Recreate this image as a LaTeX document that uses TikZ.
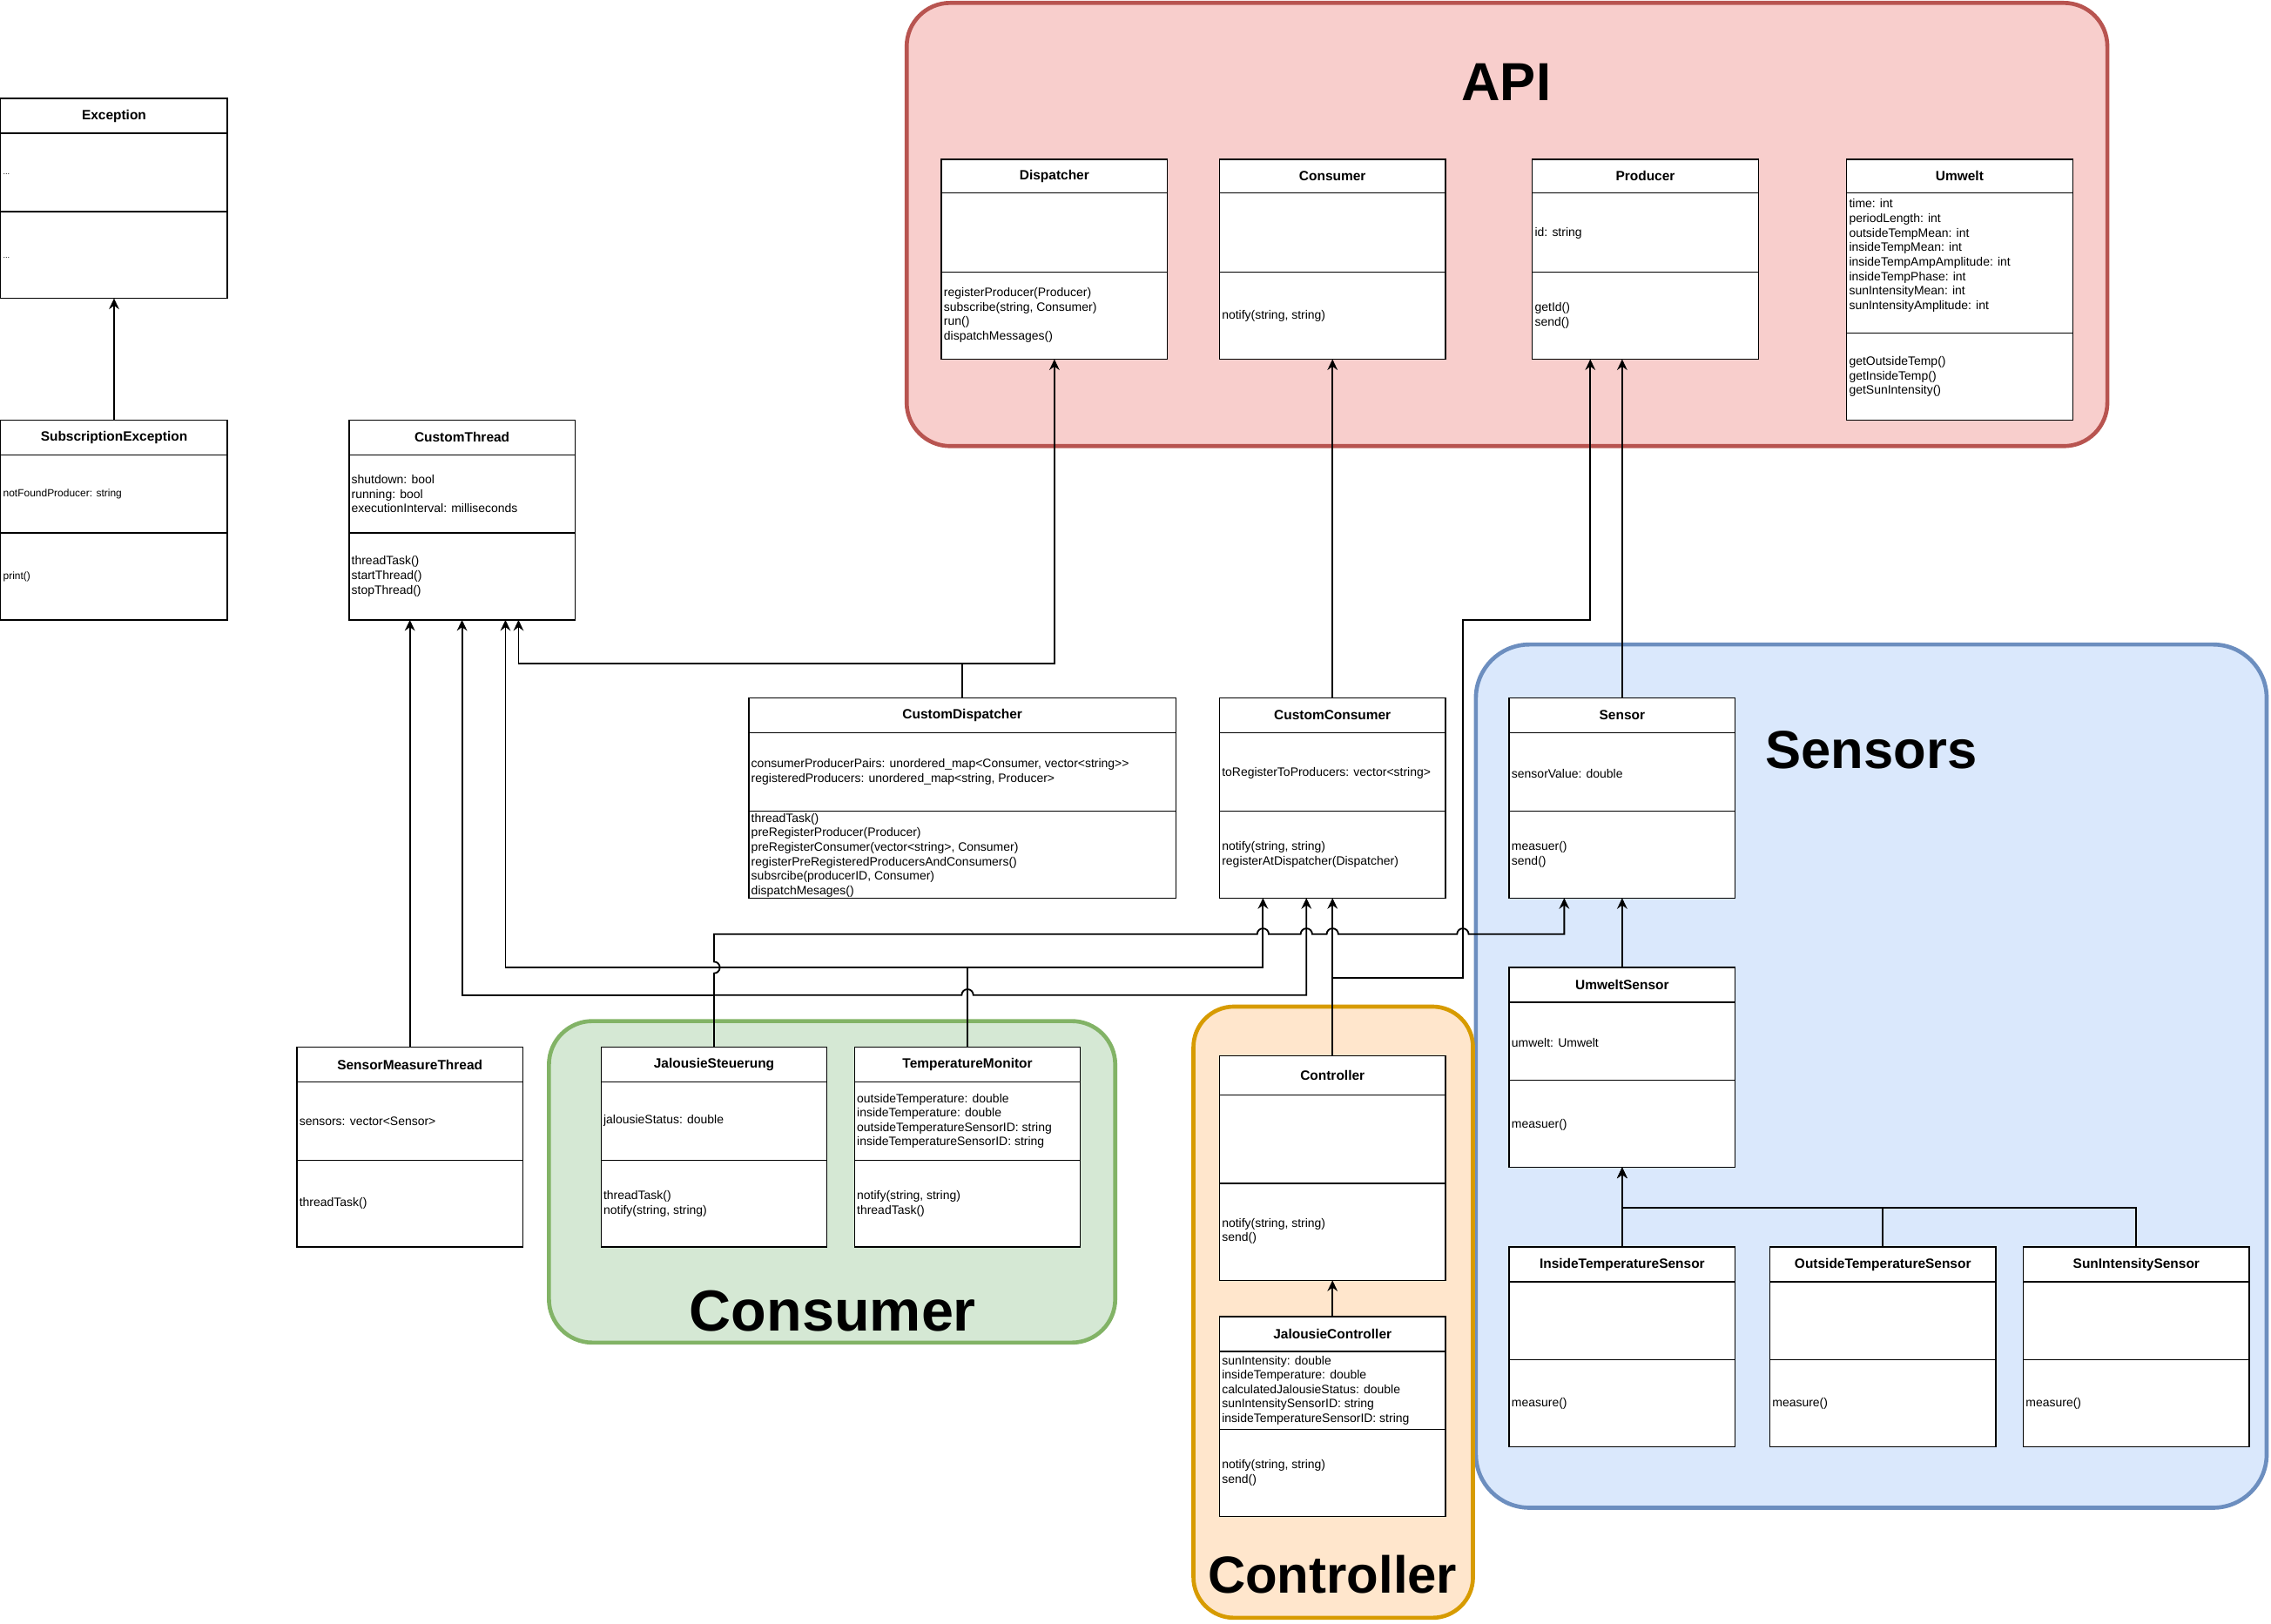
\documentclass[tikz,border=0pt]{standalone}
\usepackage{fontspec}
\setmainfont{Liberation Sans}
\usetikzlibrary{arrows.meta}
\definecolor{apifill}{HTML}{F8CECC}
\definecolor{apistroke}{HTML}{B85450}
\definecolor{senfill}{HTML}{DAE8FC}
\definecolor{senstroke}{HTML}{6C8EBF}
\definecolor{consfill}{HTML}{D5E8D4}
\definecolor{consstroke}{HTML}{82B366}
\definecolor{ctrlfill}{HTML}{FFE6CC}
\definecolor{ctrlstroke}{HTML}{D79B00}
\newcommand\umlbox[8]{%
  \node[box, minimum width={(#4-#2)*1pt}, minimum height={(#7-#3)*1pt}] (#1) at (#2,#3) {};
  \draw[boxline] (#2,#5) -- (#4,#5);
  \draw[boxline] (#2,#6) -- (#4,#6);
  \node[ttl] (#1-t) at ({(#2+#4)/2},{(#3+#5)/2}) {#8};
}
\newcommand\umltxt[5]{\node[#4] (#1) at ({#2+1.5},#3) {#5};}
\begin{document}
\begin{tikzpicture}[x=1pt,y=-1pt,
  box/.style={draw, fill=white, line width=0.8pt, inner sep=0pt, outer sep=0pt, anchor=north west},
  boxline/.style={line width=0.8pt},
  ttl/.style={font=\bfseries\fontsize{9.3}{11}\selectfont, inner sep=0pt},
  txt/.style={anchor=west, align=left, inner sep=0pt, font=\fontsize{8.4}{10}\selectfont},
  txts/.style={txt, font=\fontsize{7.2}{8.6}\selectfont},
  txtxs/.style={txt, font=\fontsize{5.5}{7}\selectfont},
  grp/.style={line width=2.8pt, inner sep=0pt, outer sep=0pt, anchor=north west},
  gttl/.style={font=\bfseries\fontsize{37}{40}\selectfont, inner sep=0pt},
  conn/.style={line width=1.1pt},
  arr/.style={conn, -{Stealth[length=7.5pt,width=7pt,inset=2.5pt]}}]
\useasboundingbox (0,0) rectangle (1568,1121);

% groups
\node[grp, draw=apistroke, fill=apifill, rounded corners=30pt, minimum width=829pt, minimum height=306pt] (gapi) at (626,2) {};
\node[grp, draw=senstroke, fill=senfill, rounded corners=37pt, minimum width=546pt, minimum height=596pt] (gsen) at (1019,445) {};
\node[grp, draw=consstroke, fill=consfill, rounded corners=30pt, minimum width=391pt, minimum height=222pt] (gcons) at (379,705) {};
\node[grp, draw=ctrlstroke, fill=ctrlfill, rounded corners=28pt, minimum width=193pt, minimum height=422pt] (gctrl) at (824,695) {};
\node[gttl] (gapi-l) at (1040,57) {API};
\node[gttl] (gsen-l) at (1292,518) {Sensors};
\node[gttl, font=\bfseries\fontsize{40}{44}\selectfont] (gcons-l) at (575,905) {Consumer};
\node[gttl, font=\bfseries\fontsize{36}{40}\selectfont] (gctrl-l) at (920,1087) {Controller};

% classes
\umlbox{exc}{0.5}{68}{157}{92}{146}{206}{Exception}
\umltxt{exc-a}{0.5}{120}{txtxs}{...}
\umltxt{exc-m}{0.5}{178}{txtxs}{...}
\umlbox{sub}{0.5}{290}{157}{314}{368}{428}{SubscriptionException}
\umltxt{sub-a}{0.5}{341}{txts}{notFoundProducer: string}
\umltxt{sub-m}{0.5}{398}{txts}{print()}
\umlbox{ct}{241}{290}{397}{314}{368}{428}{CustomThread}
\umltxt{ct-a}{241}{341}{txt}{shutdown: bool\\running: bool\\executionInterval: milliseconds}
\umltxt{ct-m}{241}{398}{txt}{threadTask()\\startThread()\\stopThread()}
\umlbox{disp}{650}{110}{806}{133}{188}{248}{Dispatcher}
\umltxt{disp-m}{650}{217.5}{txt}{registerProducer(Producer)\\subscribe(string, Consumer)\\run()\\dispatchMessages()}
\umlbox{cons}{842}{110}{998}{133}{188}{248}{Consumer}
\umltxt{cons-m}{842}{218}{txt}{notify(string, string)}
\umlbox{prod}{1058}{110}{1214}{133}{188}{248}{Producer}
\umltxt{prod-a}{1058}{161}{txt}{id: string}
\umltxt{prod-m}{1058}{218}{txt}{getId()\\send()}
\umlbox{umw}{1275}{110}{1431}{133}{230}{290}{Umwelt}
\umltxt{umw-a}{1275}{176.5}{txt}{time: int\\periodLength: int\\outsideTempMean: int\\insideTempMean: int\\insideTempAmpAmplitude: int\\insideTempPhase: int\\sunIntensityMean: int\\sunIntensityAmplitude: int}
\umltxt{umw-m}{1275}{260}{txt}{getOutsideTemp()\\getInsideTemp()\\getSunIntensity()}
\umlbox{cd}{517}{482}{812}{506}{560}{620}{CustomDispatcher}
\umltxt{cd-a}{517}{533}{txt}{consumerProducerPairs: unordered\_map<Consumer, vector<string>{}>\\registeredProducers: unordered\_map<string, Producer>}
\umltxt{cd-m}{517}{590.5}{txt}{threadTask()\\preRegisterProducer(Producer)\\preRegisterConsumer(vector<string>, Consumer)\\registerPreRegisteredProducersAndConsumers()\\subsrcibe(producerID, Consumer)\\dispatchMesages()}
\umlbox{cc}{842}{482}{998}{506}{560}{620}{CustomConsumer}
\umltxt{cc-a}{842}{534}{txt}{toRegisterToProducers: vector<string>}
\umltxt{cc-m}{842}{590}{txt}{notify(string, string)\\registerAtDispatcher(Dispatcher)}
\umlbox{sen}{1042}{482}{1198}{506}{560}{620}{Sensor}
\umltxt{sen-a}{1042}{534}{txt}{sensorValue: double}
\umltxt{sen-m}{1042}{590}{txt}{measuer()\\send()}
\umlbox{us}{1042}{668}{1198}{692}{746}{806}{UmweltSensor}
\umltxt{us-a}{1042}{720}{txt}{umwelt: Umwelt}
\umltxt{us-m}{1042}{777}{txt}{measuer()}
\umlbox{its}{1042}{861}{1198}{885}{939}{999}{InsideTemperatureSensor}
\umltxt{its-m}{1042}{969}{txt}{measure()}
\umlbox{ots}{1222}{861}{1378}{885}{939}{999}{OutsideTemperatureSensor}
\umltxt{ots-m}{1222}{969}{txt}{measure()}
\umlbox{sis}{1397}{861}{1553}{885}{939}{999}{SunIntensitySensor}
\umltxt{sis-m}{1397}{969}{txt}{measure()}
\umlbox{ctrl}{842}{729}{998}{756}{817}{884}{Controller}
\umltxt{ctrl-m}{842}{850}{txt}{notify(string, string)\\send()}
\umlbox{jc}{842}{909}{998}{933}{987}{1047}{JalousieController}
\umltxt{jc-a}{842}{960}{txt}{sunIntensity: double\\insideTemperature: double\\calculatedJalousieStatus: double\\sunIntensitySensorID: string\\insideTemperatureSensorID: string}
\umltxt{jc-m}{842}{1017}{txt}{notify(string, string)\\send()}
\umlbox{js}{415}{723}{571}{747}{801}{861}{JalousieSteuerung}
\umltxt{js-a}{415}{774}{txt}{jalousieStatus: double}
\umltxt{js-m}{415}{831}{txt}{threadTask()\\notify(string, string)}
\umlbox{tm}{590}{723}{746}{747}{801}{861}{TemperatureMonitor}
\umltxt{tm-a}{590}{774}{txt}{outsideTemperature: double\\insideTemperature: double\\outsideTemperatureSensorID: string\\insideTemperatureSensorID: string}
\umltxt{tm-m}{590}{831}{txt}{notify(string, string)\\threadTask()}
\umlbox{smt}{205}{723}{361}{747}{801}{861}{SensorMeasureThread}
\umltxt{smt-a}{205}{774}{txt}{sensors: vector<Sensor>}
\umltxt{smt-m}{205}{831}{txt}{threadTask()}

% connectors
\draw[arr] (sub.north) -- (exc.south);
\draw[arr] (smt.north) -- (ct.south -| smt.north);
\draw[arr] (cd.north) -- (cd.north |- 0,458) -| (ct.south -| 358,0);
\draw[arr] (cd.north) -- (cd.north |- 0,458) -| (disp.south);
\draw[arr] (cc.north) -- (cons.south);
\draw[arr] (sen.north) -- (prod.south -| sen.north);
\draw[arr] (us.north) -- (sen.south);
\draw[arr] (its.north) -- (us.south);
\draw[arr] (ots.north) -- (ots.north |- 0,834) -| (us.south);
\draw[arr] (sis.north) -- (sis.north |- 0,834) -| (us.south);
\draw[arr] (jc.north) -- (ctrl.south);
\draw[arr] (ctrl.north) -- (cc.south);
\draw[arr] (ctrl.north) -- (ctrl.north |- 0,675) -- (1010,675) -- (1010,428) -| (prod.south -| 1098,0);
\draw[arr] (tm.north) -- (tm.north |- 0,668) -| (ct.south -| 349,0);
\draw[arr] (tm.north) -- (tm.north |- 0,668) -| (cc.south -| 872,0);
\draw[arr] (js.north) -- (js.north |- 0,687) -| (ct.south -| 319,0);
\draw[arr] (js.north) -- (js.north |- 0,687) -- (664,687) arc[start angle=180,end angle=0,radius=4pt] -- (902,687) -- (cc.south -| 902,0);
\draw[arr] (js.north) -- (493,672) arc[start angle=-90,end angle=90,radius=4pt] -- (493,645)
  -- (868,645) arc[start angle=180,end angle=0,radius=4pt]
  -- (898,645) arc[start angle=180,end angle=0,radius=4pt]
  -- (916,645) arc[start angle=180,end angle=0,radius=4pt]
  -- (1006,645) arc[start angle=180,end angle=0,radius=4pt]
  -- (1080,645) -- (sen.south -| 1080,0);
\end{tikzpicture}
\end{document}
